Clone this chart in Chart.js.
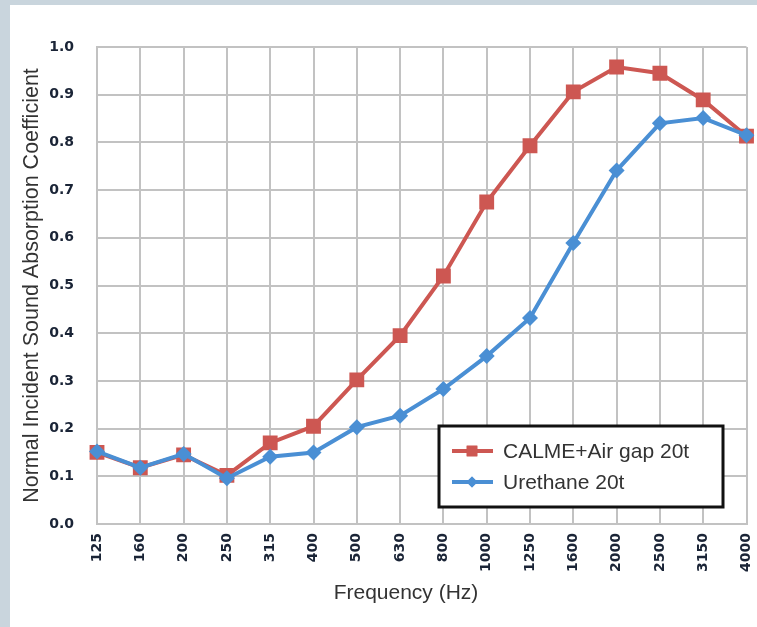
<!DOCTYPE html>
<html>
<head>
<meta charset="utf-8">
<script src="https://cdn.jsdelivr.net/npm/chart.js@4"></script>
<style>
  html, body { margin: 0; padding: 0; background: #c9d5dd; }
  #wrap { position: absolute; left: 10px; top: 5px; width: 747px; height: 622px; background: #fff; }
</style>
</head>
<body>
<div id="wrap"><canvas id="chart" width="747" height="622"></canvas></div>
<script>
// Fréquences (Hz) et coefficients
const frequencies = ['125', '160', '200', '250', '315', '400', '500', '630', '800', '1000', '1250', '1600', '2000', '2500', '3150', '4000'];
const calmeValues = [0.150, 0.118, 0.145, 0.102, 0.170, 0.205, 0.302, 0.395, 0.520, 0.675, 0.793, 0.906, 0.958, 0.945, 0.889, 0.813];
const urethaneValues = [0.152, 0.118, 0.147, 0.096, 0.141, 0.150, 0.203, 0.227, 0.283, 0.352, 0.432, 0.589, 0.741, 0.840, 0.851, 0.815];
const yTicks = [0.0, 0.1, 0.2, 0.3, 0.4, 0.5, 0.6, 0.7, 0.8, 0.9, 1.0];

const RED = '#cd5752';
const BLUE = '#4a8fd4';
const TITLE_FONT = '"Liberation Sans", Arial, sans-serif';

// Légende encadrée + titre de l'axe X (décalé à gauche comme l'original)
const boxLegend = {
    id: 'boxLegend',
    afterDraw(chart) {
        const ctx = chart.ctx;
        const x = 429, y = 421, w = 284, h = 81;
        ctx.save();
        ctx.fillStyle = '#fff';
        ctx.fillRect(x, y, w, h);
        ctx.lineWidth = 3;
        ctx.strokeStyle = '#111';
        ctx.strokeRect(x, y, w, h);

        const items = [
            { text: 'CALME+Air gap 20t', color: RED, style: 'rect', r: 7.5, cy: y + 25 },
            { text: 'Urethane 20t', color: BLUE, style: 'rectRot', r: 5.5, cy: y + 56 }
        ];
        items.forEach(item => {
            ctx.strokeStyle = item.color;
            ctx.lineWidth = 4;
            ctx.beginPath();
            ctx.moveTo(x + 13, item.cy);
            ctx.lineTo(x + 54, item.cy);
            ctx.stroke();
            ctx.fillStyle = item.color;
            Chart.helpers.drawPoint(ctx, { pointStyle: item.style, radius: item.r, borderWidth: 0 }, x + 33, item.cy);
            ctx.fill();
            ctx.fillStyle = '#333';
            ctx.font = '21px ' + TITLE_FONT;
            ctx.textBaseline = 'middle';
            ctx.fillText(item.text, x + 64, item.cy + 1);
        });

        ctx.fillStyle = '#333';
        ctx.font = '21px ' + TITLE_FONT;
        ctx.textAlign = 'center';
        ctx.textBaseline = 'middle';
        ctx.fillText('Frequency (Hz)', 396, 588);
        ctx.restore();
    }
};

const ctx = document.getElementById('chart').getContext('2d');
new Chart(ctx, {
    type: 'line',
    data: {
        labels: frequencies,
        datasets: [
            {
                label: 'CALME+Air gap 20t',
                data: calmeValues,
                borderColor: RED,
                backgroundColor: RED,
                borderWidth: 4,
                pointStyle: 'rect',
                pointRadius: 10.5,
                pointBorderWidth: 0,
                tension: 0,
                order: 1
            },
            {
                label: 'Urethane 20t',
                data: urethaneValues,
                borderColor: BLUE,
                backgroundColor: BLUE,
                borderWidth: 4,
                pointStyle: 'rectRot',
                pointRadius: 8,
                pointBorderWidth: 0,
                tension: 0,
                order: 0
            }
        ]
    },
    options: {
        responsive: false,
        animation: false,
        layout: { padding: { left: 0, right: 9, top: 42, bottom: 10 } },
        plugins: {
            legend: { display: false },
            tooltip: { enabled: false }
        },
        scales: {
            x: {
                offset: false,
                grid: { color: '#c2c2c2', lineWidth: 2, drawTicks: false },
                border: { color: '#c2c2c2', width: 2 },
                ticks: {
                    maxRotation: 90,
                    minRotation: 90,
                    padding: 9,
                    color: '#1a2436',
                    font: { family: '"DejaVu Sans"', size: 14, weight: 'bold' }
                },
                title: { display: false },
                afterFit(scale) {
                    scale.height = 93;
                    scale.paddingLeft = 0;
                    scale.paddingRight = 0;
                }
            },
            y: {
                min: 0,
                max: 1,
                afterBuildTicks(scale) {
                    scale.ticks = yTicks.map(v => ({ value: v }));
                },
                grid: { color: '#c2c2c2', lineWidth: 2, drawTicks: false },
                border: { color: '#c2c2c2', width: 2 },
                ticks: {
                    padding: 23,
                    color: '#1a2436',
                    font: { family: '"DejaVu Sans"', size: 14, weight: 'bold' },
                    callback: v => Number(v).toFixed(1)
                },
                title: {
                    display: true,
                    text: 'Normal Incident Sound Absorption Coefficient',
                    color: '#333',
                    font: { family: TITLE_FONT, size: 21.5 },
                    padding: { top: 9, bottom: 0 }
                },
                afterFit(scale) {
                    scale.width = 87;
                    scale.paddingTop = 0;
                    scale.paddingBottom = 0;
                }
            }
        }
    },
    plugins: [boxLegend]
});
</script>
</body>
</html>
